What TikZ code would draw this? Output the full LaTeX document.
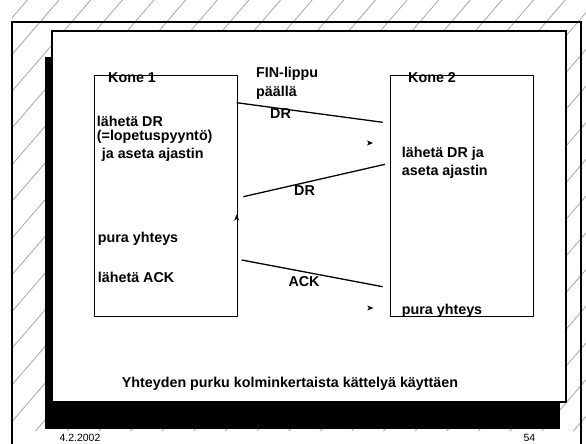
\documentclass[tikz,border=0pt]{standalone}
\usepackage{fontspec}
\setmainfont{Liberation Sans}
\begin{document}
\begin{tikzpicture}[x=1pt,y=-1pt,
  lbl/.style={anchor=base west,inner sep=0pt,font=\fontsize{14.3}{16}\selectfont\bfseries},
  foot/.style={anchor=base west,inner sep=0pt,font=\fontsize{10.5}{12}\selectfont},
  msg/.style={line width=1.3pt},
  hatch/.style={draw=gray!70,line width=0.8pt},
  boxk/.style={draw,line width=1.1pt,anchor=north west,inner sep=0pt}]
\useasboundingbox (0,0) rectangle (586,444);
\fill[white] (0,0) rectangle (586,444);
% hatching
\begin{scope}
\clip (12,0) rectangle (586,431) (581,431) rectangle (586,444);
\foreach \k in {0,...,32}{
  \pgfmathsetmacro\cc{31.8+36.7*\k}
  \draw[hatch] (0,\cc) -- (600,\cc-696);
}
\end{scope}
% outer frame
\draw[line width=1.5pt] (12,444) -- (12,22) -- (581,22) -- (581,444);
% shadow and panel
\fill[black] (45,57) rectangle (560,429);
\draw[line width=1.5pt,fill=white] (52,31) rectangle (566,402);
% texts
\node[lbl] (k1title) at (108,82) {Kone 1};
\node[lbl] (k2title) at (408,82) {Kone 2};
\node[lbl] (fin1) at (256,77.3) {FIN-lippu};
\node[lbl] (fin2) at (256,96.7) {päällä};
\node[lbl] (a1) at (96.7,126) {lähetä DR};
\node[lbl] (a2) at (96.7,140.5) {(=lopetuspyyntö)};
\node[lbl] (a3) at (101.7,158) {ja aseta ajastin};
\node[lbl] (a4) at (97.7,242.5) {pura yhteys};
\node[lbl] (a5) at (97.7,282.7) {lähetä ACK};
\node[lbl] (b1) at (401.7,157) {lähetä DR ja};
\node[lbl] (b2) at (401.7,175) {aseta ajastin};
\node[lbl] (b3) at (401.7,314) {pura yhteys};
\node[lbl] (dr1) at (270,118.3) {DR};
\node[lbl] (dr2) at (294,195) {DR};
\node[lbl] (ack) at (288.3,286.7) {ACK};
\node[lbl] (caption) at (121.7,387.3) {Yhteyden purku kolminkertaista kättelyä käyttäen};
\node[foot] (date) at (59.3,441.7) {4.2.2002};
\node[foot] (page) at (523.3,441.7) {54};
% boxes
\node[boxk,minimum width=143pt,minimum height=241pt] (kone1) at (94,75) {};
\node[boxk,minimum width=143pt,minimum height=241pt] (kone2) at (390,75) {};
% message lines
\coordinate (m1s) at (236.7,102.7);
\coordinate (m1e) at (382.7,122.3);
\coordinate (m2s) at (385,164.3);
\coordinate (m2e) at (243.3,196.7);
\coordinate (m3s) at (241.7,260);
\coordinate (m3e) at (382.7,286.7);
\draw[msg] (m1s) -- (m1e);
\draw[msg] (m2s) -- (m2e);
\draw[msg] (m3s) -- (m3e);
% detached arrow tips
\coordinate (t1) at (373,143);
\coordinate (t2) at (236.7,214.5);
\coordinate (t3) at (373.3,308);
\fill (t1) ++(-6,-2.5) -- (t1) -- ++(-6,2.5) -- ++(1.6,-2.5) -- cycle;
\fill (t2) ++(-2.5,6) -- (t2) -- ++(2.5,6) -- ++(-2.5,-1.6) -- cycle;
\fill (t3) ++(-6,-2.5) -- (t3) -- ++(-6,2.5) -- ++(1.6,-2.5) -- cycle;
\end{tikzpicture}
\end{document}
